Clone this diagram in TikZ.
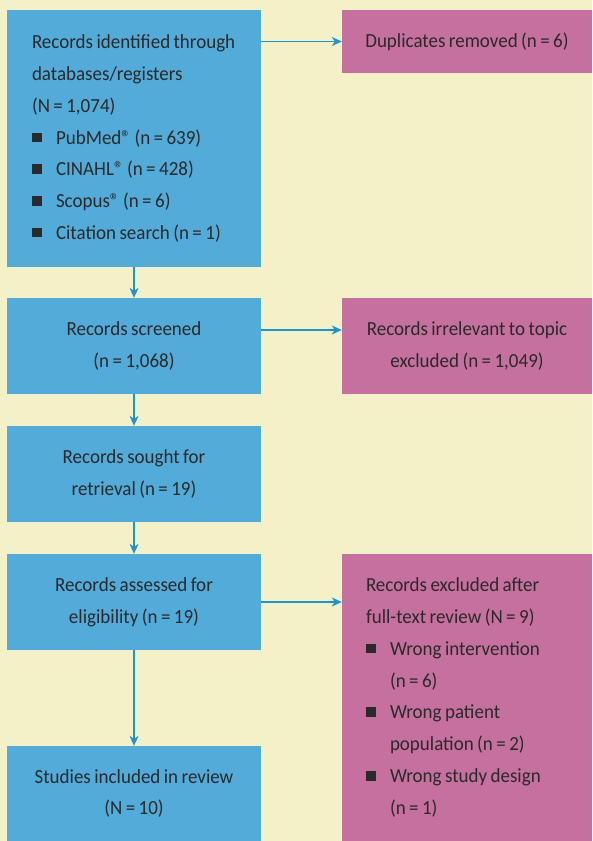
\documentclass[tikz,border=0pt]{standalone}
\usepackage{fontspec}
\setmainfont[FakeStretch=0.95, WordSpace=0.8]{Carlito}
\usetikzlibrary{arrows.meta}

\definecolor{pagebg}{HTML}{F4F1C8}
\definecolor{boxblue}{HTML}{52ABD9}
\definecolor{boxpink}{HTML}{C5709E}
\definecolor{linkblue}{HTML}{1A96D0}
\definecolor{ink}{HTML}{2A2A2A}

% square bullet with its indent
\newcommand{\sqitem}{\makebox[24pt][l]{\rule[2pt]{9.5pt}{9.5pt}}}
\newcommand{\regd}{\textregistered}

\begin{document}
\begin{tikzpicture}[x=1pt, y=-1pt,
    flowbox/.style={inner sep=0pt, text=ink, minimum width=254pt,
      font=\fontsize{20}{31.8}\selectfont, align=center},
    bluebox/.style={flowbox, fill=boxblue},
    pinkbox/.style={flowbox, fill=boxpink, minimum width=250pt},
    flow/.style={draw=linkblue, line width=1.3pt, -{Stealth[length=10pt, width=9pt, inset=3pt]}}]

    \fill [pagebg] (0,0) rectangle (592,841) ;
    \useasboundingbox (0,0) rectangle (592,841) ;

    % left column
    \node [bluebox, minimum height=257pt, text width=204pt, align=flush left] (ident) at (134,138.5)
      {Records identified through\\ databases/registers\\ (N = 1,074)\\
       \sqitem PubMed\regd{} (n = 639)\\ \sqitem CINAHL\regd{} (n = 428)\\
       \sqitem Scopus\regd{} (n = 6)\\ \sqitem Citation search (n = 1)} ;
    \node [bluebox, minimum height=96pt] (scr) at (134,346) {Records screened\\ (n = 1,068)} ;
    \node [bluebox, minimum height=96pt] (sought) at (134,474) {Records sought for\\ retrieval (n = 19)} ;
    \node [bluebox, minimum height=96pt] (elig) at (134,602) {Records assessed for\\ eligibility (n = 19)} ;
    \node [bluebox, minimum height=95pt] (incl) at (134,793.5) {Studies included in review\\ (N = 10)} ;

    % right column
    \node [pinkbox, minimum height=63pt] (dup) at (467,41.5) {Duplicates removed (n = 6)} ;
    \node [pinkbox, minimum height=96pt] (irr) at (467,346) {Records irrelevant to topic\\ excluded (n = 1,049)} ;
    \node [pinkbox, minimum height=287pt, text width=202pt, align=flush left] (excl) at (467,697.5)
      {Records excluded after\\ full-text review (N = 9)\\
       \sqitem Wrong intervention\\ \hspace*{24pt}(n = 6)\\
       \sqitem Wrong patient\\ \hspace*{24pt}population (n = 2)\\
       \sqitem Wrong study design\\ \hspace*{24pt}(n = 1)} ;

    \draw [flow] (ident) -- (scr) ;
    \draw [flow] (scr) -- (sought) ;
    \draw [flow] (sought) -- (elig) ;
    \draw [flow] (elig) -- (incl) ;

    \draw [flow] (ident.east |- dup.west) -- (dup.west) ;
    \draw [flow] ([yshift=16pt]scr.east) -- ([yshift=16pt]irr.west) ;
    \draw [flow] (elig.east) -- (excl.west |- elig.east) ;
\end{tikzpicture}
\end{document}
